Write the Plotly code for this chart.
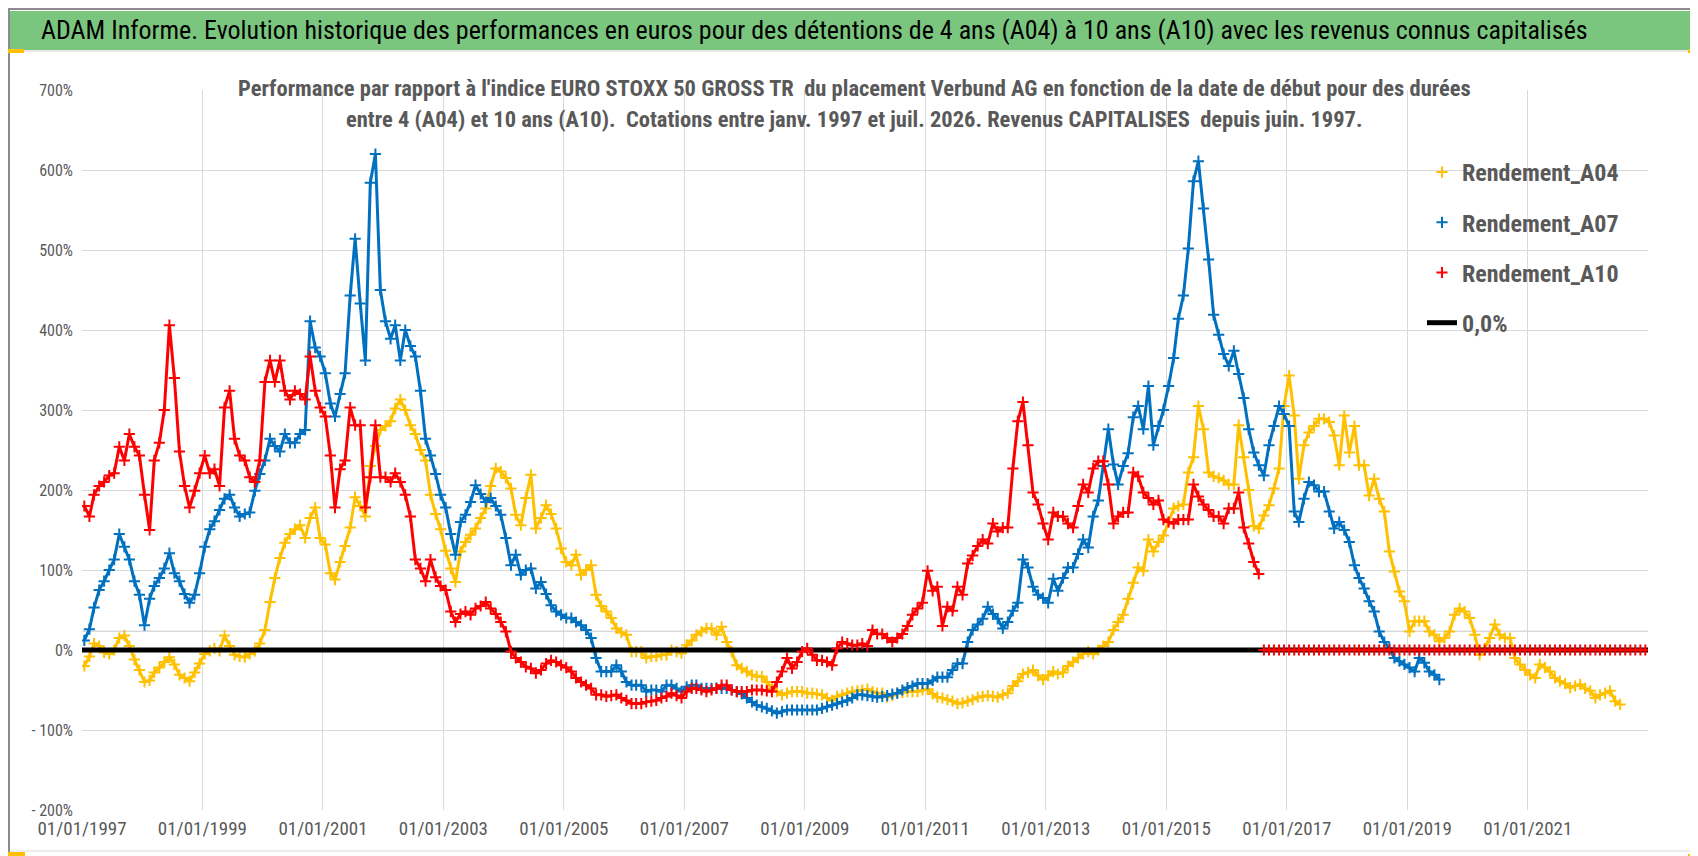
import pandas as pd
import plotly.graph_objects as go

# --- data (monthly values, % vs EURO STOXX 50 GROSS TR) ---
A04_START = "1997-01"
A04_VALUES = [
    -20, -8, 8, 5, -3, -5, 0, 15, 18, 5, -12, -25,            # 1997
    -40, -38, -28, -22, -15, -9, -18, -31, -35, -39, -28, -17,  # 1998
    -5, -1, 2, -1, 18, 5, -6, -8, -9, -5, -1, 8,               # 1999
    25, 60, 90, 115, 134, 145, 151, 156, 140, 165, 178, 140,    # 2000
    132, 96, 88, 110, 130, 153, 191, 180, 167, 230, 255, 275,   # 2001
    280, 286, 302, 313, 300, 281, 270, 250, 237, 194, 170, 151, # 2002
    124, 102, 85, 123, 135, 144, 152, 165, 177, 205, 227, 223,  # 2003
    215, 202, 169, 156, 190, 219, 152, 165, 181, 170, 152, 127, # 2004
    110, 106, 119, 94, 100, 106, 69, 55, 48, 40, 27, 22,        # 2005
    19, -2, -2, -2, -10, -8, -8, -6, -6, 0, -2, -4,             # 2006
    6, 12, 19, 23, 27, 27, 19, 29, 10, -2, -19, -23,            # 2007
    -27, -31, -33, -33, -40, -48, -52, -56, -54, -52, -52, -52, # 2008
    -54, -54, -55, -56, -60, -63, -58, -56, -54, -52, -51, -50, # 2009
    -49, -52, -54, -54, -59, -57, -54, -53, -52, -52, -52, -50, # 2010
    -49, -55, -59, -60, -62, -64, -67, -66, -64, -62, -59, -58, # 2011
    -57, -58, -59, -56, -54, -45, -39, -30, -28, -25, -32, -37, # 2012
    -32, -27, -30, -28, -20, -15, -10, -5, -2, -5, 0, 5,        # 2013
    10, 25, 35, 44, 64, 84, 103, 99, 138, 123, 135, 143,        # 2014
    160, 177, 180, 182, 222, 241, 305, 276, 222, 217, 215, 212, # 2015
    207, 207, 281, 241, 200, 155, 152, 168, 181, 202, 227, 305, # 2016
    343, 293, 214, 256, 272, 280, 289, 289, 285, 268, 231, 293, # 2017
    247, 280, 231, 231, 193, 214, 189, 173, 123, 98, 73, 61,    # 2018
    23, 36, 36, 36, 23, 19, 11, 15, 23, 44, 52, 48,             # 2019
    40, 19, -6, 2, 15, 32, 19, 15, 15, -10, -18, -25,           # 2020
    -31, -35, -18, -22, -27, -35, -39, -42, -47, -45, -43, -48, # 2021
    -51, -60, -56, -54, -51, -64, -68,                          # 2022
]

A07_START = "1997-01"
A07_VALUES = [
    12, 26, 53, 75, 86, 100, 113, 145, 129, 113, 86, 69,        # 1997
    31, 64, 80, 90, 102, 121, 96, 86, 70, 59, 69, 96,           # 1998
    129, 151, 161, 175, 189, 194, 178, 167, 170, 172, 199, 220, # 1999
    237, 264, 255, 248, 270, 259, 259, 270, 275, 411, 378, 367, # 2000
    346, 308, 292, 320, 346, 443, 514, 433, 362, 584, 620, 450, # 2001
    411, 389, 406, 362, 400, 380, 367, 324, 264, 243, 220, 194, # 2002
    178, 145, 119, 160, 169, 185, 206, 195, 185, 190, 180, 169, # 2003
    140, 106, 119, 94, 100, 102, 77, 85, 70, 56, 48, 44,        # 2004
    40, 40, 35, 31, 25, 15, -10, -27, -27, -27, -19, -27,       # 2005
    -40, -44, -44, -44, -52, -50, -50, -52, -44, -44, -48, -52, # 2006
    -46, -44, -44, -48, -48, -48, -48, -48, -48, -50, -52, -55, # 2007
    -60, -65, -69, -71, -73, -76, -79, -77, -75, -75, -75, -75, # 2008
    -75, -75, -75, -73, -71, -69, -67, -65, -63, -60, -56, -56, # 2009
    -57, -58, -59, -58, -57, -55, -54, -50, -47, -45, -42, -42, # 2010
    -42, -38, -34, -34, -34, -25, -17, -17, 10, 25, 32, 39,     # 2011
    54, 45, 39, 27, 35, 49, 59, 113, 103, 79, 69, 65,           # 2012
    59, 89, 74, 90, 103, 103, 120, 138, 128, 167, 187, 230,     # 2013
    276, 232, 207, 230, 246, 291, 305, 276, 330, 256, 280, 300, # 2014
    330, 365, 414, 443, 502, 586, 611, 552, 488, 419, 394, 370, # 2015
    355, 374, 345, 315, 276, 247, 231, 218, 256, 280, 305, 295, # 2016
    280, 173, 160, 189, 210, 206, 198, 198, 173, 152, 160, 150, # 2017
    135, 106, 90, 77, 61, 48, 23, 10, 2, -10, -14, -18,         # 2018
    -22, -27, -10, -16, -27, -31, -37,                          # 2019
]

A10_START = "1997-01"
A10_VALUES = [
    180, 167, 194, 205, 210, 218, 221, 254, 237, 270, 254, 243, # 1997
    194, 150, 237, 259, 300, 406, 340, 248, 205, 178, 199, 221, # 1998
    243, 221, 226, 205, 303, 324, 264, 243, 237, 216, 210, 237, # 1999
    335, 362, 335, 362, 324, 313, 324, 320, 313, 367, 324, 303, # 2000
    292, 243, 178, 226, 237, 303, 281, 281, 178, 216, 281, 216, # 2001
    216, 210, 221, 210, 194, 167, 113, 102, 86, 113, 91, 80,    # 2002
    75, 48, 35, 45, 48, 44, 52, 55, 60, 52, 45, 35,             # 2003
    23, -2, -10, -15, -21, -23, -29, -25, -17, -13, -15, -19,   # 2004
    -22, -27, -35, -40, -44, -48, -56, -56, -58, -57, -56, -60, # 2005
    -63, -67, -67, -67, -65, -64, -63, -60, -58, -54, -57, -60, # 2006
    -52, -48, -48, -50, -52, -50, -48, -44, -44, -50, -52, -52, # 2007
    -52, -50, -50, -50, -51, -52, -40, -27, -10, -23, -15, -2,  # 2008
    2, -6, -13, -13, -15, -19, 2, 10, 8, 6, 6, 8,               # 2009
    5, 25, 20, 20, 15, 10, 15, 20, 30, 44, 52, 59,              # 2010
    99, 74, 79, 30, 54, 49, 79, 69, 108, 118, 130, 138,         # 2011
    133, 158, 148, 153, 153, 227, 286, 310, 256, 197, 182, 158, # 2012
    138, 172, 167, 167, 158, 153, 180, 207, 197, 227, 236, 236, # 2013
    207, 158, 167, 172, 172, 222, 217, 197, 190, 182, 187, 163, # 2014
    160, 158, 163, 163, 163, 207, 192, 182, 175, 167, 167, 158, # 2015
    177, 177, 197, 153, 133, 110, 95,                           # 2016
]
# after mid-2016 the 10-year figure is flat at 0 %
A10_ZERO_START = "2016-08"
A10_ZERO_VALUES = [
    0, 0, 0, 0, 0,                                              # 2016
    0, 0, 0, 0, 0, 0, 0, 0, 0, 0, 0, 0,                         # 2017
    0, 0, 0, 0, 0, 0, 0, 0, 0, 0, 0, 0,                         # 2018
    0, 0, 0, 0, 0, 0, 0, 0, 0, 0, 0, 0,                         # 2019
    0, 0, 0, 0, 0, 0, 0, 0, 0, 0, 0, 0,                         # 2020
    0, 0, 0, 0, 0, 0, 0, 0, 0, 0, 0, 0,                         # 2021
    0, 0, 0, 0, 0, 0, 0, 0, 0, 0, 0, 0,                         # 2022
]

ZERO_DATES = ["1997-01-01", "2022-12-31"]
ZERO_VALUES = [0, 0]

X_TICK_DATES = ["1997-01-01", "1999-01-01", "2001-01-01", "2003-01-01", "2005-01-01",
                "2007-01-01", "2009-01-01", "2011-01-01", "2013-01-01", "2015-01-01",
                "2017-01-01", "2019-01-01", "2021-01-01"]
X_TICK_TEXT = ["01/01/1997", "01/01/1999", "01/01/2001", "01/01/2003", "01/01/2005",
               "01/01/2007", "01/01/2009", "01/01/2011", "01/01/2013", "01/01/2015",
               "01/01/2017", "01/01/2019", "01/01/2021"]
Y_TICKS = [-200, -100, 0, 100, 200, 300, 400, 500, 600, 700]
Y_TICK_TEXT = ["- 200%", "- 100%", "0%", "100%", "200%", "300%", "400%", "500%", "600%", "700%"]
REF_LINE = 23.5  # faint grey horizontal line visible in the picture

TITLE = ("ADAM Informe. Evolution historique des performances en euros pour des détentions "
         "de 4 ans (A04) à 10 ans (A10) avec les revenus connus capitalisés")
SUB1 = ("Performance par rapport à l'indice EURO STOXX 50 GROSS TR  du placement Verbund AG "
        "en fonction de la date de début pour des durées")
SUB2 = ("entre 4 (A04) et 10 ans (A10).  Cotations entre janv. 1997 et juil. 2026. "
        "Revenus CAPITALISES  depuis juin. 1997.")

FONT = "Liberation Sans Narrow, Arial Narrow, Roboto Condensed, DejaVu Sans Condensed, sans-serif"
GREY_TXT = "#595959"
GRID = "#d9d9d9"

W, H = 1698, 856
ML, MR, MT, MB = 74, 58, 82, 54
PW, PH = W - ML - MR, H - MT - MB


def px(x):
    return (x - ML) / PW


def py(y):
    return (H - MB - y) / PH


def monthly(start, n):
    return pd.date_range(start, periods=n, freq="MS") + pd.Timedelta(days=14)


def add_series(name, segments, color, rank):
    # the original is a dense cloud of daily "+" marks: draw a band per segment plus monthly crosses
    all_x, all_y = [], []
    for start, values in segments:
        dates = monthly(start, len(values))
        fig.add_trace(go.Scatter(x=dates, y=values, mode="lines", line=dict(color=color, width=3),
                                 showlegend=False, hoverinfo="skip", legendgroup=name))
        all_x += list(dates)
        all_y += list(values)
    fig.add_trace(go.Scatter(x=all_x, y=all_y, mode="markers", name=name,
                             marker=dict(symbol="cross-thin", size=8, color=color,
                                         line=dict(width=2, color=color)),
                             legendrank=rank, legendgroup=name))


fig = go.Figure()
add_series("Rendement_A04", [(A04_START, A04_VALUES)], "#FFC000", 1)
add_series("Rendement_A07", [(A07_START, A07_VALUES)], "#0070C0", 2)
fig.add_trace(go.Scatter(x=ZERO_DATES, y=ZERO_VALUES, mode="lines", name="0,0%",
                         line=dict(color="black", width=5),
                         legendrank=4, legendgroup="zero"))
add_series("Rendement_A10", [(A10_START, A10_VALUES), (A10_ZERO_START, A10_ZERO_VALUES)],
           "#FF0000", 3)

shapes = [
    # outer frame and banner
    dict(type="rect", xref="paper", yref="paper", x0=px(2), x1=px(W), y0=py(42), y1=py(3),
         fillcolor="#7BC67E", line=dict(width=0), layer="below"),
    dict(type="rect", xref="paper", yref="paper", x0=px(1), x1=px(1691), y0=py(853), y1=py(1),
         line=dict(color="#8c8c8c", width=2)),
    dict(type="line", xref="paper", yref="paper", x0=px(2), x1=px(1690), y0=py(43), y1=py(43),
         line=dict(color="#d0d0d0", width=1)),
    dict(type="line", xref="paper", yref="paper", x0=px(2), x1=px(1690), y0=py(843), y1=py(843),
         line=dict(color=GRID, width=1)),
    # white boxes behind title and legend (hide gridlines)
    dict(type="rect", xref="paper", yref="paper", x0=px(217), x1=px(1474), y0=py(130), y1=py(60),
         fillcolor="white", line=dict(width=0), layer="between"),
    dict(type="rect", xref="paper", yref="paper", x0=px(1385), x1=px(1641), y0=py(345), y1=py(148),
         fillcolor="white", line=dict(width=0), layer="between"),
    dict(type="line", xref="paper", yref="y", x0=0, x1=1, y0=REF_LINE, y1=REF_LINE,
         line=dict(color="#c8c8c8", width=1), layer="between"),
    # yellow selection handles
    dict(type="rect", xref="paper", yref="paper", x0=px(0), x1=px(16), y0=py(45), y1=py(41),
         fillcolor="#FFC000", line=dict(width=0)),
    dict(type="rect", xref="paper", yref="paper", x0=px(1680), x1=px(1694), y0=py(45), y1=py(41),
         fillcolor="#FFC000", line=dict(width=0)),
    dict(type="rect", xref="paper", yref="paper", x0=px(1690), x1=px(1694), y0=py(55), y1=py(41),
         fillcolor="#FFC000", line=dict(width=0)),
    dict(type="rect", xref="paper", yref="paper", x0=px(0), x1=px(17), y0=py(850), y1=py(844),
         fillcolor="#FFC000", line=dict(width=0)),
    dict(type="rect", xref="paper", yref="paper", x0=px(1689), x1=px(1694), y0=py(850), y1=py(800),
         fillcolor="#FFC000", line=dict(width=0)),
    dict(type="rect", xref="paper", yref="paper", x0=px(1680), x1=px(1694), y0=py(850), y1=py(846),
         fillcolor="#FFC000", line=dict(width=0)),
]

annotations = [
    dict(text=TITLE, xref="paper", yref="paper", x=px(806), y=py(22), xanchor="center",
         yanchor="middle", showarrow=False, font=dict(family=FONT, size=26, color="black")),
    dict(text=SUB1, xref="paper", yref="paper", x=px(846), y=py(80), xanchor="center",
         yanchor="middle", showarrow=False,
         font=dict(family=FONT, size=22.5, color=GREY_TXT, weight="bold")),
    dict(text=SUB2, xref="paper", yref="paper", x=px(846), y=py(111), xanchor="center",
         yanchor="middle", showarrow=False,
         font=dict(family=FONT, size=22.5, color=GREY_TXT, weight="bold")),
]

fig.update_layout(
    width=W, height=H, autosize=False,
    margin=dict(l=ML, r=MR, t=MT, b=MB, pad=0),
    paper_bgcolor="white", plot_bgcolor="white",
    shapes=shapes, annotations=annotations,
    showlegend=True,
    legend=dict(x=px(1414), y=py(142), xanchor="left", yanchor="top",
                bgcolor="rgba(0,0,0,0)", tracegroupgap=16,
                font=dict(family=FONT, size=24, color=GREY_TXT, weight="bold")),
    xaxis=dict(type="date", range=["1997-01-01", "2022-12-31"],
               tickvals=X_TICK_DATES, ticktext=X_TICK_TEXT,
               showgrid=True, gridcolor=GRID, gridwidth=1, zeroline=False, showline=False,
               ticks="", ticklabelstandoff=5,
               tickfont=dict(family=FONT, size=19, color=GREY_TXT)),
    yaxis=dict(range=[-200, 700], tickvals=Y_TICKS, ticktext=Y_TICK_TEXT,
               showgrid=True, gridcolor=GRID, gridwidth=1, zeroline=False, showline=False,
               ticks="", ticklabelstandoff=8,
               tickfont=dict(family=FONT, size=16, color=GREY_TXT)),
)

fig.write_html("out.html")
